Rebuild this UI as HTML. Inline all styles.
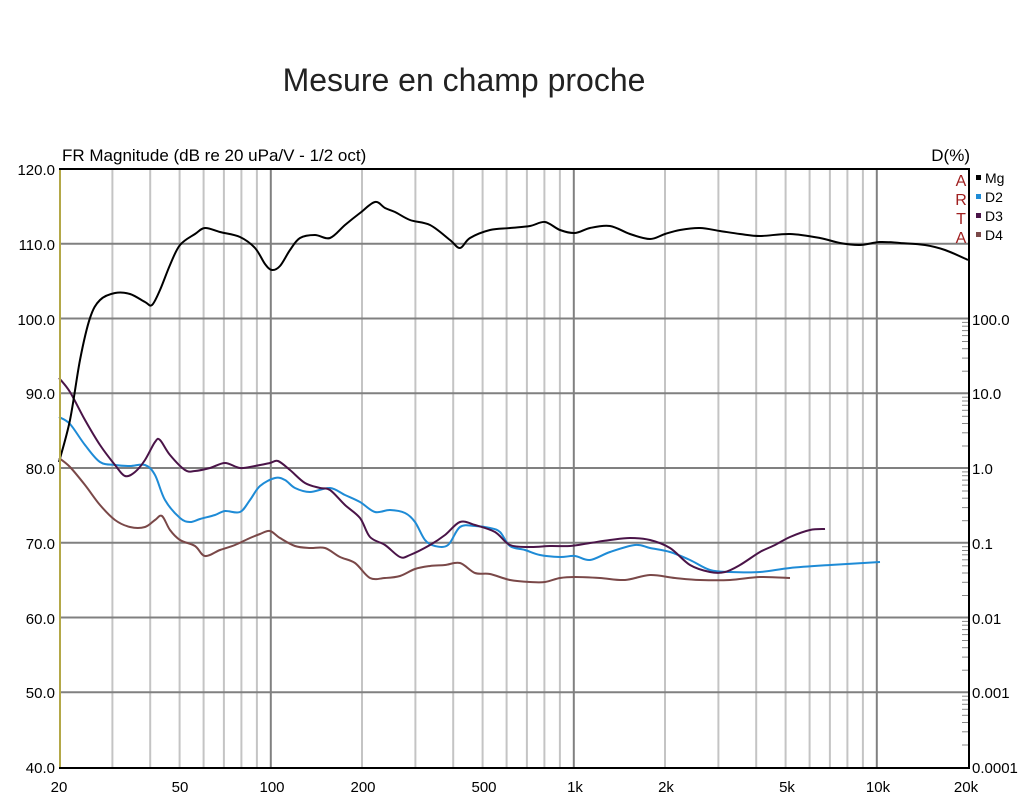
<!DOCTYPE html><html><head><style>body{margin:0;background:#fff}svg{display:block;font-family:"Liberation Sans",sans-serif}</style></head><body>
<svg width="1029" height="800" viewBox="0 0 1029 800">
<rect width="1029" height="800" fill="#fff"/>
<text x="464" y="91" font-size="32" text-anchor="middle" fill="#222">Mesure en champ proche</text>
<text x="62" y="161" font-size="17" fill="#000">FR Magnitude (dB re 20 uPa/V - 1/2 oct)</text>
<text x="970" y="161" font-size="17" text-anchor="end" fill="#000">D(%)</text>
<g id="grid" stroke-width="2"></g>
<g font-size="15" fill="#000" text-anchor="end">
<text x="55" y="175">120.0</text><text x="55" y="250">110.0</text><text x="55" y="325">100.0</text><text x="55" y="399">90.0</text><text x="55" y="474">80.0</text><text x="55" y="549">70.0</text><text x="55" y="624">60.0</text><text x="55" y="698">50.0</text><text x="55" y="773">40.0</text>
</g>
<g font-size="15" fill="#000">
<text x="972" y="325">100.0</text><text x="972" y="399">10.0</text><text x="972" y="474">1.0</text><text x="972" y="549">0.1</text><text x="972" y="624">0.01</text><text x="972" y="698">0.001</text><text x="972" y="773">0.0001</text>
</g>
<g font-size="15" fill="#000" text-anchor="middle">
<text x="59" y="792">20</text><text x="180" y="792">50</text><text x="272" y="792">100</text><text x="363" y="792">200</text><text x="484" y="792">500</text><text x="575" y="792">1k</text><text x="666" y="792">2k</text><text x="787" y="792">5k</text><text x="878" y="792">10k</text><text x="966" y="792">20k</text>
</g>
<g font-size="16" fill="#a02020" text-anchor="middle"><text x="961" y="186">A</text><text x="961" y="205">R</text><text x="961" y="224">T</text><text x="961" y="243">A</text></g>
<g font-size="14" fill="#000"><rect x="976" y="175" width="5" height="5" fill="#000"/><text x="985" y="183">Mg</text>
<rect x="976" y="194" width="5" height="5" fill="#1e8bd6"/><text x="985" y="202">D2</text>
<rect x="976" y="213" width="5" height="5" fill="#4a1448"/><text x="985" y="221">D3</text>
<rect x="976" y="232" width="5" height="5" fill="#7a4848"/><text x="985" y="240">D4</text></g>
<g id="curves" fill="none" stroke-width="2" stroke-linejoin="round"></g>
<rect x="60" y="169" width="909" height="599" fill="none" stroke="#000" stroke-width="2"/>
<line x1="60" y1="170" x2="60" y2="767" stroke="#f0e060" stroke-width="1.5"/>
<g id="rt" stroke="#888" stroke-width="1"></g>
</svg>
<script>
var g=document.getElementById('grid'),s='';
function X(f){return 59+303*Math.log10(f/20);}
var fs=[];for(var d=10;d<=10000;d*=10){for(var m=1;m<=9;m++){var f=m*d;if(f>20&&f<20000)fs.push(f);}}
fs.forEach(function(f){var x=X(f).toFixed(1);var maj=(f==100||f==1000||f==10000);s+='<line x1="'+x+'" y1="170" x2="'+x+'" y2="767" stroke="'+(maj?'#808080':'#c4c4c4')+'"/>';});
for(var i=1;i<8;i++){var y=(169+i*74.75).toFixed(1);s+='<line x1="60" y1="'+y+'" x2="968" y2="'+y+'" stroke="#808080"/>';}
g.innerHTML=s;
var r='';for(var k=0;k<6;k++){var y0=319+k*74.75;for(var m=2;m<=9;m++){var y=(y0+74.75*(1-Math.log10(m))).toFixed(1);r+='<line x1="962" y1="'+y+'" x2="968" y2="'+y+'"/>';}}
document.getElementById('rt').innerHTML=r;
var data=[
["#7a4848","59,458 70,467 85,485 100,505 115,520 130,527 145,527 155,520 162,516 170,530 180,540 195,546 205,556 220,550 235,545 250,538 260,534 270,531 280,538 295,546 310,548 325,548 340,557 355,563 370,578 385,578 400,576 415,569 430,566 445,565 460,563 475,573 490,574 510,580 530,582 545,582 560,578 575,577 600,578 625,580 650,575 675,578 700,580 730,580 760,577 790,578"],
["#1e8bd6","59,417 70,424 85,445 100,462 115,465 130,466 145,465 155,475 165,500 180,518 190,522 200,519 215,515 225,511 240,512 250,500 260,486 275,478 285,480 295,488 310,492 330,488 345,495 360,502 375,512 390,510 405,513 415,522 425,540 435,546 448,545 460,527 475,526 490,528 500,532 510,546 525,550 540,555 560,557 575,556 590,560 610,552 635,545 650,548 670,552 690,560 710,570 730,572 760,572 790,568 830,565 880,562"],
["#4a1448","59,378 70,392 85,420 100,445 115,465 125,476 135,472 145,460 155,442 160,440 170,455 185,470 195,471 210,468 225,463 240,468 255,466 270,463 278,461 290,470 305,483 320,488 330,490 345,505 360,518 370,537 385,545 400,557 410,555 430,545 445,535 460,522 475,525 495,532 510,545 530,547 550,546 570,546 590,543 610,540 630,538 650,540 670,548 690,565 710,572 725,572 740,565 760,552 775,545 790,537 810,530 825,529"],
["#000","59,462 70,420 80,360 90,318 100,300 115,293 130,294 145,302 152,305 160,290 170,265 180,245 195,234 205,228 220,232 240,237 255,248 265,264 272,270 280,266 290,250 300,238 315,235 330,238 345,225 360,213 375,202 385,208 395,212 410,220 430,225 450,240 460,248 470,238 490,230 510,228 530,226 545,222 560,230 575,233 590,228 610,226 630,234 650,239 665,234 680,230 700,228 720,231 740,234 760,236 790,234 820,238 840,243 860,245 880,242 900,243 925,245 945,250 968,260"]];
var c='';
data.forEach(function(dd){var p=dd[1].split(' ').map(function(q){return q.split(',').map(Number);});
var d='M'+p[0][0]+','+p[0][1];
for(var i=0;i<p.length-1;i++){var p0=p[Math.max(i-1,0)],p1=p[i],p2=p[i+1],p3=p[Math.min(i+2,p.length-1)];
d+=' C'+(p1[0]+(p2[0]-p0[0])/6).toFixed(1)+','+(p1[1]+(p2[1]-p0[1])/6).toFixed(1)+' '+(p2[0]-(p3[0]-p1[0])/6).toFixed(1)+','+(p2[1]-(p3[1]-p1[1])/6).toFixed(1)+' '+p2[0]+','+p2[1];}
c+='<path d="'+d+'" stroke="'+dd[0]+'"/>';});
document.getElementById('curves').innerHTML=c;
</script>
</body></html>
